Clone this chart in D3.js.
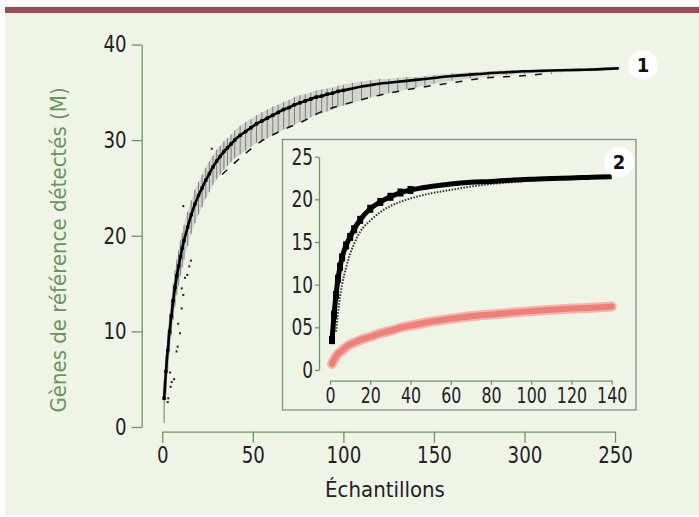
<!DOCTYPE html>
<html>
<head>
<meta charset="utf-8">
<script src="https://cdnjs.cloudflare.com/ajax/libs/d3/7.8.5/d3.min.js"></script>
<style>
  html, body { margin: 0; padding: 0; background: #ffffff; }
  svg { display: block; }
  .num { font-family: "DejaVu Sans Condensed", "DejaVu Sans", sans-serif; font-stretch: condensed; fill: #222; }
</style>
</head>
<body>
<div id="grafico"></div>
<script>
// ---------- DATOS ----------
// Grafico principal: genes detectados vs numero de muestras
var echantillons = [1, 2, 3, 4, 5, 6, 7, 8, 9, 10, 11, 12,
    14, 16, 18, 20, 22, 24, 26, 28, 30, 32, 34, 36, 38, 40,
    43, 46, 49, 52, 55, 58, 61, 64, 67, 70, 73, 76, 79, 82, 85, 88, 91, 94, 97, 100,
    105, 110, 115, 120, 125, 130, 135, 140, 145, 150,
    160, 170, 180, 190, 200, 210, 220, 230, 240, 252];
var genesMoyenne = [3.0, 5.8, 8.0, 10.0, 11.6, 13.2, 14.6, 15.8, 16.8, 17.8, 18.7, 19.5,
    20.9, 22.2, 23.3, 24.2, 25.0, 25.8, 26.5, 27.2, 27.8, 28.3, 28.8, 29.2, 29.6, 30.0,
    30.5, 30.9, 31.3, 31.7, 32.0, 32.3, 32.6, 32.9, 33.2, 33.4, 33.7, 33.9, 34.1, 34.3, 34.5, 34.6, 34.8, 34.9, 35.1, 35.2,
    35.4, 35.6, 35.75, 35.9, 36.0, 36.1, 36.2, 36.3, 36.4, 36.5,
    36.7, 36.85, 37.0, 37.1, 37.2, 37.25, 37.3, 37.35, 37.4, 37.5];
var erreurBas = [2.6, 2.4, 2.2, 2.0, 2.0, 2.0, 2.0, 2.0, 2.0, 2.0, 2.0, 2.0,
    2.0, 2.0, 2.0, 2.0, 2.0, 1.9, 1.9, 1.9, 1.9, 1.9, 1.9, 1.9, 1.9, 1.9,
    2.0, 2.0, 2.0, 2.0, 2.1, 2.1, 2.1, 2.1, 2.1, 2.1, 2.1, 2.0, 2.0, 1.9, 1.9, 1.8, 1.8, 1.7, 1.6, 1.6,
    1.5, 1.4, 1.3, 1.2, 1.1, 1.0, 0.9, 0.8, 0.7, 0.6,
    0.5, 0.4, 0.35, 0.3, 0.25, 0.2, 0.2, 0.15, 0.15, 0.1];
var erreurHaut = [1.9, 1.8, 1.8, 1.8, 1.8, 1.8, 1.8, 1.7, 1.7, 1.7, 1.6, 1.6,
    1.6, 1.5, 1.5, 1.4, 1.4, 1.3, 1.3, 1.2, 1.2, 1.1, 1.1, 1.0, 1.0, 1.0,
    1.0, 1.0, 0.9, 0.9, 0.9, 0.9, 0.9, 0.8, 0.8, 0.8, 0.8, 0.8, 0.7, 0.7, 0.7, 0.7, 0.6, 0.6, 0.6, 0.6,
    0.6, 0.5, 0.5, 0.5, 0.4, 0.4, 0.4, 0.3, 0.3, 0.3,
    0.3, 0.25, 0.2, 0.2, 0.15, 0.15, 0.1, 0.1, 0.1, 0.1];
// courbe basse en tirets
var basX = [33, 41, 54, 67, 78, 87, 100, 120, 139, 160, 178, 196, 215];
var basY = [26.4, 27.8, 29.8, 31.1, 32.0, 32.9, 33.7, 34.7, 35.4, 36.0, 36.5, 36.7, 37.0];
// points isoles au debut
var pointsX = [3.0, 3.3, 4.3, 4.6, 5.2, 6.5, 7.9, 8.5, 9.8, 8.8, 10.7, 11.6, 10.7, 12.5, 13.8, 14.9, 15.8, 11.6, 27.3];
var pointsY = [2.6, 3.0, 5.7, 4.2, 4.7, 5.0, 7.9, 8.4, 9.8, 10.8, 12.4, 13.8, 14.5, 15.6, 15.9, 16.8, 17.4, 23.1, 29.1];

var ticksX = [0, 50, 100, 150, 200, 250];
var ticksXLabels = ['0', '50', '100', '150', '300', '250'];
var ticksY = [0, 10, 20, 30, 40];

// Encart (2)
var encartX = [1, 2, 3, 4, 5, 6, 8, 10, 12, 15, 20, 25, 30, 35, 40, 50, 60, 70, 80, 90, 100, 110, 120, 130, 140];
var encartNoir = [3.5, 6.5, 8.8, 10.7, 12.1, 13.2, 14.6, 15.6, 16.5, 17.6, 18.9, 19.7, 20.3, 20.8, 21.1, 21.5, 21.8, 22.0, 22.1, 22.25, 22.35, 22.45, 22.5, 22.6, 22.65];
var encartRouge = [0.7, 1.2, 1.6, 1.9, 2.1, 2.3, 2.7, 3.0, 3.2, 3.5, 3.9, 4.3, 4.6, 4.95, 5.2, 5.65, 6.0, 6.3, 6.5, 6.7, 6.9, 7.05, 7.2, 7.3, 7.45];
var encartBasX = [3, 4, 5, 6, 8, 10, 12, 15, 20, 25, 30, 40, 50, 60, 70, 80, 90, 100];
var encartBasY = [4.5, 6.8, 8.6, 10.0, 12.0, 13.6, 14.8, 16.2, 17.5, 18.5, 19.2, 20.1, 20.7, 21.1, 21.5, 21.8, 22.0, 22.2];
var encartTicksX = [0, 20, 40, 60, 80, 100, 120, 140];
var encartTicksY = [0, 5, 10, 15, 20, 25];
var encartTicksYLabels = ['0', '05', '10', '15', '20', '25'];

// ---------- SVG ----------
var W = 699, H = 517;
var vert = '#6e9466';
var svg = d3.select('#grafico').append('svg').attr('width', W).attr('height', H);

// fond + bandeau
svg.append('rect').attr('x', 5).attr('y', 13).attr('width', W - 5).attr('height', 502).attr('fill', '#eef5e7');
svg.append('rect').attr('x', 5).attr('y', 7).attr('width', W - 5).attr('height', 6).attr('fill', '#9b4b56');

// texto de los ejes un poco mas estrecho (fuente condensada del original)
function styleAxe(g, taille, sx, gauche) {
    g.selectAll('path, line').attr('stroke', vert).attr('stroke-width', 1.3);
    g.selectAll('text').attr('class', 'num').attr('font-size', taille)
        .attr('transform', 'scale(' + sx + ',1)')
        .each(function () {
            if (gauche) {
                var t = d3.select(this);
                t.attr('x', +t.attr('x') / sx);
            }
        });
}

// ---------- ESCALAS ----------
var x = d3.scaleLinear().domain([0, 250]).range([162.3, 615]);
var y = d3.scaleLinear().domain([0, 40]).range([427, 44.5]);

// eje Y
var gy = svg.append('g').attr('transform', 'translate(141.7,0)')
    .call(d3.axisLeft(y).tickValues(ticksY).tickSize(10).tickSizeOuter(0).tickPadding(5));
// eje X
var gx = svg.append('g').attr('transform', 'translate(0,431.7)')
    .call(d3.axisBottom(x).tickValues(ticksX).tickSize(11).tickSizeOuter(0).tickPadding(4)
        .tickFormat(function (d, i) { return ticksXLabels[i]; }));
styleAxe(gx, 23, 0.88, false);
styleAxe(gy, 23, 0.88, true);

// titulos
svg.append('text').attr('class', 'num')
    .attr('x', 385).attr('y', 497).attr('text-anchor', 'middle')
    .attr('font-size', 22).text('Échantillons');
svg.append('text').attr('class', 'num')
    .attr('transform', 'translate(66,250) rotate(-90)').attr('text-anchor', 'middle')
    .attr('font-size', 22).style('fill', '#6a9460').text('Gènes de référence détectés (M)');

// banda de error
var donnees = echantillons.map(function (d, i) {
    return { x: d, m: genesMoyenne[i], lo: genesMoyenne[i] - erreurBas[i], hi: genesMoyenne[i] + erreurHaut[i] };
});
svg.append('path')
    .attr('d', d3.area().x(function (d) { return x(d.x); })
        .y0(function (d) { return y(d.lo); }).y1(function (d) { return y(d.hi); })
        .curve(d3.curveMonotoneX)(donnees))
    .attr('fill', '#9a9a9a').attr('opacity', 0.35);
svg.append('g').selectAll('line').data(donnees).enter().append('line')
    .attr('x1', function (d) { return x(d.x); }).attr('x2', function (d) { return x(d.x); })
    .attr('y1', function (d) { return y(d.lo); }).attr('y2', function (d) { return y(d.hi); })
    .attr('stroke', '#7d7d7d').attr('stroke-width', 1);

// courbe basse en tirets
svg.append('path')
    .attr('d', d3.line().x(function (d, i) { return x(basX[i]); }).y(function (d) { return y(d); })
        .curve(d3.curveMonotoneX)(basY))
    .attr('fill', 'none').attr('stroke', '#111').attr('stroke-width', 1.5).attr('stroke-dasharray', '7,9');

// points isoles
svg.append('g').selectAll('rect').data(pointsX).enter().append('rect')
    .attr('x', function (d) { return x(d) - 1; }).attr('y', function (d, i) { return y(pointsY[i]) - 1; })
    .attr('width', 2).attr('height', 2).attr('fill', '#222');

// courbe moyenne
svg.append('path')
    .attr('d', d3.line().x(function (d) { return x(d.x); }).y(function (d) { return y(d.m); })
        .curve(d3.curveMonotoneX)(donnees))
    .attr('fill', 'none').attr('stroke', '#000').attr('stroke-width', 2.6);
svg.append('g').selectAll('rect').data(donnees.filter(function (d) { return d.x <= 100; })).enter().append('rect')
    .attr('x', function (d) { return x(d.x) - 1.7; }).attr('y', function (d) { return y(d.m) - 1.7; })
    .attr('width', 3.4).attr('height', 3.4).attr('fill', '#000');

// ---------- ENCART ----------
svg.append('rect').attr('x', 282.5).attr('y', 139.5).attr('width', 353.5).attr('height', 270.5)
    .attr('fill', 'none').attr('stroke', '#8a8a8a').attr('stroke-width', 1.3);

var ex = d3.scaleLinear().domain([0, 140]).range([330, 611.7]);
var ey = d3.scaleLinear().domain([0, 25]).range([370, 156.7]);

var egy = svg.append('g').attr('transform', 'translate(319,0)')
    .call(d3.axisLeft(ey).tickValues(encartTicksY).tickSize(4).tickSizeOuter(0).tickPadding(2)
        .tickFormat(function (d, i) { return encartTicksYLabels[i]; }));
var egx = svg.append('g').attr('transform', 'translate(0,380.7)')
    .call(d3.axisBottom(ex).tickValues(encartTicksX).tickSize(4).tickSizeOuter(0).tickPadding(3));
styleAxe(egx, 22, 0.8, false);
styleAxe(egy, 23, 0.82, true);

// serie roja (banda gruesa)
var ligneEncart = function (xs, ys) {
    return d3.line().x(function (d, i) { return ex(xs[i]); }).y(function (d) { return ey(d); })
        .curve(d3.curveMonotoneX)(ys);
};
svg.append('path').attr('d', ligneEncart(encartX, encartRouge))
    .attr('fill', 'none').attr('stroke', '#f5b4ad').attr('stroke-width', 10).attr('stroke-linecap', 'round');
svg.append('path').attr('d', ligneEncart(encartX, encartRouge))
    .attr('fill', 'none').attr('stroke', '#ee8078').attr('stroke-width', 6).attr('stroke-linecap', 'round');

// serie negra baja (punteada)
svg.append('path').attr('d', ligneEncart(encartBasX, encartBasY))
    .attr('fill', 'none').attr('stroke', '#333').attr('stroke-width', 2).attr('stroke-dasharray', '1.5,1.5');

// serie negra principal
svg.append('path').attr('d', ligneEncart(encartX, encartNoir))
    .attr('fill', 'none').attr('stroke', '#000').attr('stroke-width', 5);
svg.append('g').selectAll('rect').data(encartX.filter(function (d) { return d <= 40; })).enter().append('rect')
    .attr('x', function (d) { return ex(d) - 3; })
    .attr('y', function (d, i) { return ey(encartNoir[i]) - 4; })
    .attr('width', 6).attr('height', 8).attr('fill', '#000');

// ---------- PASTILLAS ----------
var pastilles = [[643, 65, '1'], [619, 162, '2']];
pastilles.forEach(function (p) {
    svg.append('circle').attr('cx', p[0]).attr('cy', p[1]).attr('r', 15).attr('fill', '#fff');
    svg.append('text').attr('x', p[0]).attr('y', p[1] + 7).attr('text-anchor', 'middle')
        .attr('font-family', 'DejaVu Sans Condensed, DejaVu Sans, sans-serif').attr('font-weight', 'bold')
        .attr('font-size', 20).attr('fill', '#111').text(p[2]);
});
</script>
</body>
</html>
